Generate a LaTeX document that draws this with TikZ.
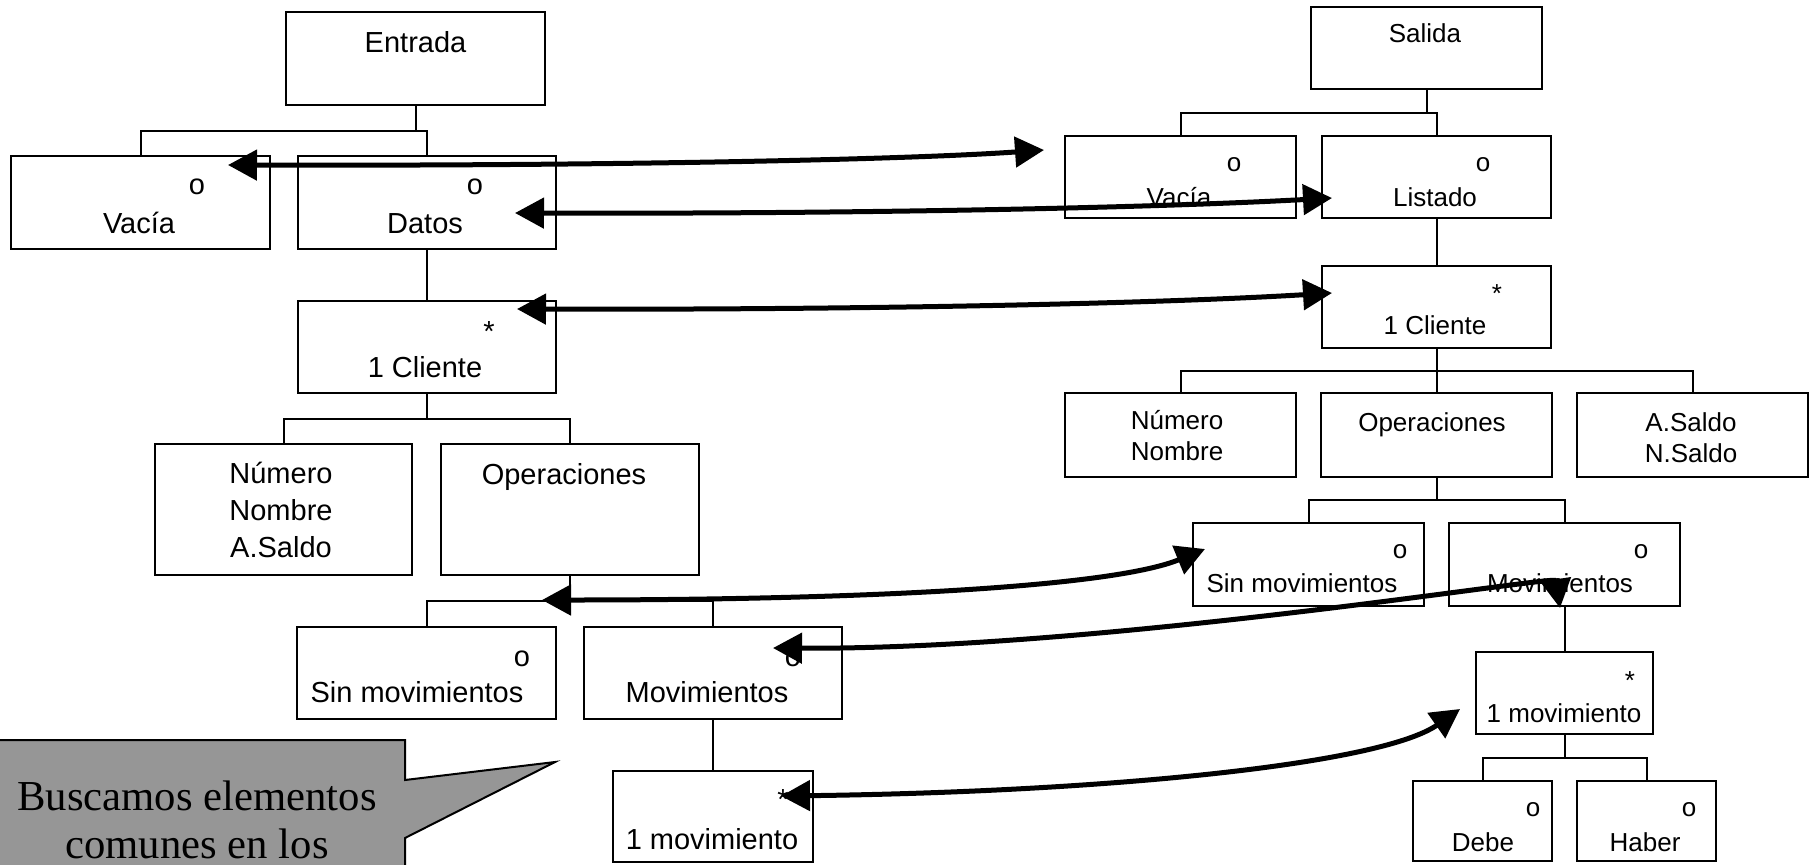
\documentclass[tikz,border=0pt]{standalone}
\usepackage{fontspec}
\setmainfont{Liberation Sans}
\newfontfamily\serifa{Liberation Serif}
\usetikzlibrary{arrows.meta,calc,fit}
\definecolor{grisnota}{RGB}{150,150,150}

\begin{document}
\begin{tikzpicture}[x=0.2mm, y=-0.2mm,
  caja/.style={draw, line width=0.4mm, inner sep=0pt},
  rama/.style={line width=0.4mm},
  txtE/.style={anchor=base, inner sep=0pt, font=\fontsize{16.5}{21.3}\selectfont},
  txtS/.style={anchor=base, inner sep=0pt, font=\fontsize{14.8}{17.6}\selectfont},
  flecha/.style={line width=1mm, {Triangle[length=5.8mm,width=6mm]}-{Triangle[length=5.8mm,width=6mm]}}]
  \useasboundingbox (0,0) rectangle (1814,864);
  \clip (0,0) rectangle (1814,864);

  % arbol de la entrada
  \node (entrada) [caja, fit={(286,12) (545,105)}] {};
  \node (vaciaE) [caja, fit={(11,156) (270,249)}] {};
  \node (datosE) [caja, fit={(298,156) (556,249)}] {};
  \node (clienteE) [caja, fit={(298,301) (556,393)}] {};
  \node (numeroE) [caja, fit={(155,444) (412,575)}] {};
  \node (operE) [caja, fit={(441,444) (699,575)}] {};
  \node (sinE) [caja, fit={(297,627) (556,719)}] {};
  \node (movE) [caja, fit={(584,627) (842,719)}] {};
  \node (unmovE) [caja, fit={(613,771) (813,862)}] {};

  \node (entradaT) [txtE] at (415.5,52) {Entrada};
  \node (vaciaEm) [txtE] at (197,194.5) {o};
  \node (vaciaET) [txtE] at (139,233) {Vacía};
  \node (datosEm) [txtE] at (475,194.5) {o};
  \node (datosET) [txtE] at (425,233) {Datos};
  \node (clienteEm) [txtE] at (489,341) {*};
  \node (clienteET) [txtE] at (425,377) {1 Cliente};
  \node (numeroET) [txtE, anchor=center, align=center] at (281,510) {Número\\Nombre\\A.Saldo};
  \node (operET) [txtE] at (564,484) {Operaciones};
  \node (sinEm) [txtE] at (522,666.5) {o};
  \node (sinET) [txtE] at (417,702) {Sin movimientos};
  \node (movEm) [txtE] at (793,666.5) {o};
  \node (movET) [txtE] at (707,702) {Movimientos};
  \node (unmovEm) [txtE] at (783,809) {*};
  \node (unmovET) [txtE] at (712,849) {1 movimiento};

  % arbol de la salida
  \node (salida) [caja, fit={(1311,7) (1542,89)}] {};
  \node (vaciaS) [caja, fit={(1065,136) (1296,218)}] {};
  \node (listado) [caja, fit={(1322,136) (1551,218)}] {};
  \node (clienteS) [caja, fit={(1322,266) (1551,348)}] {};
  \node (numeroS) [caja, fit={(1065,393) (1296,477)}] {};
  \node (operS) [caja, fit={(1321,393) (1552,477)}] {};
  \node (saldoS) [caja, fit={(1577,393) (1808,477)}] {};
  \node (sinS) [caja, fit={(1193,523) (1424,606)}] {};
  \node (movS) [caja, fit={(1449,523) (1680,606)}] {};
  \node (unmovS) [caja, fit={(1476,652) (1653,734)}] {};
  \node (debe) [caja, fit={(1413,781) (1552,861)}] {};
  \node (haber) [caja, fit={(1577,781) (1716,861)}] {};

  \node (salidaT) [txtS] at (1425,42) {Salida};
  \node (vaciaSm) [txtS] at (1234,171.5) {o};
  \node (vaciaST) [txtS] at (1179,206) {Vacía};
  \node (listadoM) [txtS] at (1483,171.5) {o};
  \node (listadoT) [txtS] at (1435,206) {Listado};
  \node (clienteSm) [txtS] at (1497,302) {*};
  \node (clienteST) [txtS] at (1435,334) {1 Cliente};
  \node (numeroST) [txtS, anchor=center, align=center] at (1177,436) {Número\\Nombre};
  \node (operST) [txtS] at (1432,431) {Operaciones};
  \node (saldoST) [txtS, anchor=center, align=center] at (1691,437.5) {A.Saldo\\N.Saldo};
  \node (sinSm) [txtS] at (1400,558.5) {o};
  \node (sinST) [txtS] at (1302,592) {Sin movimientos};
  \node (movSm) [txtS] at (1641,558.5) {o};
  \node (movST) [txtS] at (1560,592) {Movimientos};
  \node (unmovSm) [txtS] at (1630,689) {*};
  \node (unmovST) [txtS] at (1564,722) {1 movimiento};
  \node (debeM) [txtS] at (1533,816.5) {o};
  \node (debeT) [txtS] at (1483,851) {Debe};
  \node (haberM) [txtS] at (1689,816.5) {o};
  \node (haberT) [txtS] at (1645,851) {Haber};

  % ramas padre-hijo
  \foreach \p/\h in {entrada/vaciaE, entrada/datosE, datosE/clienteE, clienteE/numeroE,
      clienteE/operE, operE/sinE, operE/movE, movE/unmovE,
      salida/vaciaS, salida/listado, listado/clienteS, clienteS/numeroS, clienteS/operS,
      clienteS/saldoS, operS/sinS, operS/movS, movS/unmovS, unmovS/debe, unmovS/haber}
    \draw[rama] (\p.south) |- ($(\p.south)!.5!(\h.north)$) -| (\h.north);

  % correspondencias entre entrada y salida
  \coordinate (pVaciaE) at (228,165);
  \coordinate (pVaciaS) at (1044,150);
  \coordinate (pDatos) at (515,213);
  \coordinate (pListado) at (1332,198);
  \coordinate (pClienteE) at (517,309);
  \coordinate (pClienteS) at (1332,293);
  \coordinate (pOperE) at (542,600);
  \coordinate (pSinS) at (1205,549);
  \coordinate (pMovE) at (773,648);
  \coordinate (pMovS) at (1560,608);
  \coordinate (pUnmovE) at (781,796);
  \coordinate (pUnmovS) at (1460,709);

  \draw[flecha] (pVaciaE) .. controls (600,166) and (900,160) .. (pVaciaS);
  \draw[flecha] (pDatos) .. controls (850,214) and (1150,208) .. (pListado);
  \draw[flecha] (pClienteE) .. controls (850,310) and (1150,304) .. (pClienteS);
  \draw[flecha] (pOperE) .. controls (850,600) and (1110,588) .. (pSinS);
  \draw[flecha] (pMovE) .. controls (1100,650) and (1555,575) .. (pMovS);
  \draw[flecha] (pUnmovE) .. controls (1100,792) and (1380,765) .. (pUnmovS);

  % llamada
  \filldraw[fill=grisnota, line width=0.4mm] (-5,740) -- (405,740) -- (405,780) -- (555,762)
    -- (405,838) -- (405,880) -- (-5,880) -- cycle;
  \node (nota) [align=center, inner sep=0pt, font=\serifa\fontsize{24.3}{27.3}\selectfont] at (197,820)
    {Buscamos elementos\\comunes en los};
\end{tikzpicture}
\end{document}
